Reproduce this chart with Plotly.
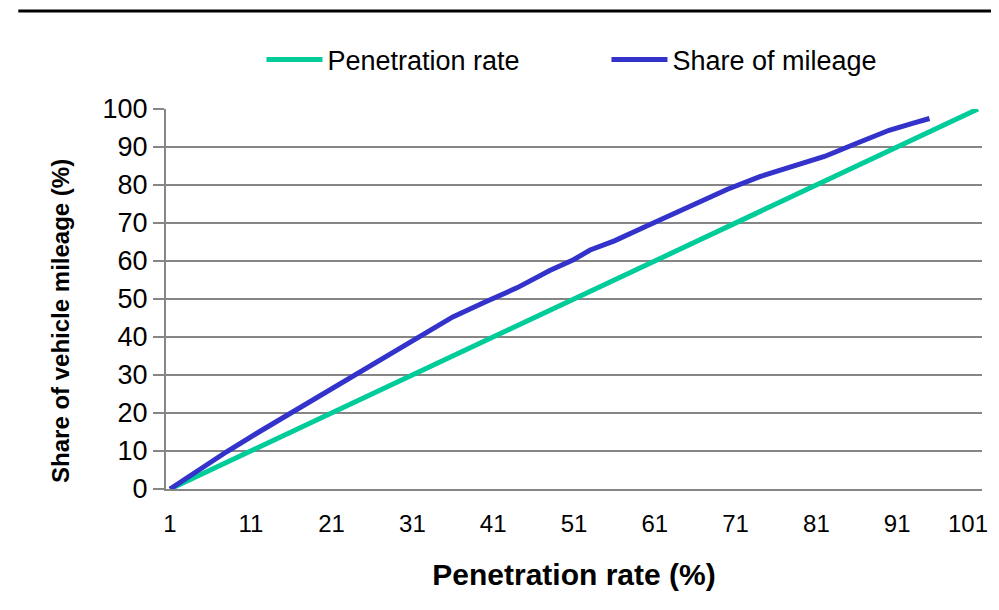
import plotly.graph_objects as go

# Data
x_tick_labels = [1, 11, 21, 31, 41, 51, 61, 71, 81, 91, 101]
y_tick_labels = [0, 10, 20, 30, 40, 50, 60, 70, 80, 90, 100]

penetration_x = [1, 101]
penetration_y = [0, 100]

mileage_x = [1, 4, 8, 12, 16, 20, 23, 26, 29, 32, 36, 40, 44, 48, 51, 53, 56,
             60, 64, 67, 70, 74, 78, 82, 86, 90, 93, 95]
mileage_y = [0, 4.2, 9.8, 15.0, 20.1, 25.0, 28.8, 32.8, 36.6, 40.4, 45.3, 49.2,
             53.0, 57.5, 60.4, 62.9, 65.3, 69.2, 73.1, 76.0, 78.9, 82.2, 84.7,
             87.5, 91.0, 94.4, 96.3, 97.5]

GREEN = "#00CC99"
BLUE = "#3333CC"
GRID = "#868686"
FONT = "Liberation Sans, Arial, sans-serif"

# keep the last label inside the visible page (trailing no-break spaces)
x_tick_text = [str(v) for v in x_tick_labels]
x_tick_text[-1] = x_tick_text[-1] + "\u00a0\u00a0\u00a0"

fig = go.Figure()
fig.add_trace(go.Scatter(x=penetration_x, y=penetration_y, mode="lines",
                         name="Penetration rate",
                         line=dict(color=GREEN, width=5)))
fig.add_trace(go.Scatter(x=mileage_x, y=mileage_y, mode="lines",
                         name="Share of mileage",
                         line=dict(color=BLUE, width=5)))

fig.update_layout(
    width=991, height=585,
    margin=dict(l=158, r=17, t=101, b=104, autoexpand=False),
    paper_bgcolor="white", plot_bgcolor="white",
    font=dict(family=FONT, color="black", size=26),
    showlegend=True,
    legend=dict(orientation="h", x=0.117, xanchor="left", y=1.129,
                yanchor="middle", font=dict(size=27), itemwidth=56,
                entrywidth=274, entrywidthmode="pixels",
                bgcolor="rgba(0,0,0,0)", tracegroupgap=0),
    xaxis=dict(range=[0.5, 101.5], tickmode="array", tickvals=x_tick_labels,
               ticktext=x_tick_text,
               showgrid=False, zeroline=False, showline=True,
               linecolor=GRID, linewidth=2, ticks="",
               ticklabelstandoff=12, tickfont=dict(size=24),
               ticklabeloverflow="allow",
               title=dict(text="<b>Penetration rate (%)</b>",
                          font=dict(size=30), standoff=28)),
    yaxis=dict(range=[0, 100], tickmode="array", tickvals=y_tick_labels,
               showgrid=True, gridcolor=GRID, gridwidth=2,
               zeroline=False, showline=True, linecolor=GRID, linewidth=2,
               ticks="outside", ticklen=11, tickcolor=GRID, tickwidth=2,
               tickfont=dict(size=27)),
    annotations=[dict(text="<b>Share of vehicle mileage (%)</b>",
                      xref="paper", yref="paper", x=-0.130, y=0.442,
                      xanchor="center", yanchor="middle", textangle=-90,
                      showarrow=False, font=dict(size=24))],
    shapes=[dict(type="line", xref="paper", yref="paper",
                 x0=-0.181, x1=1.021, y0=1.258, y1=1.258,
                 line=dict(color="black", width=3))],
)

fig.write_html("out.html")
